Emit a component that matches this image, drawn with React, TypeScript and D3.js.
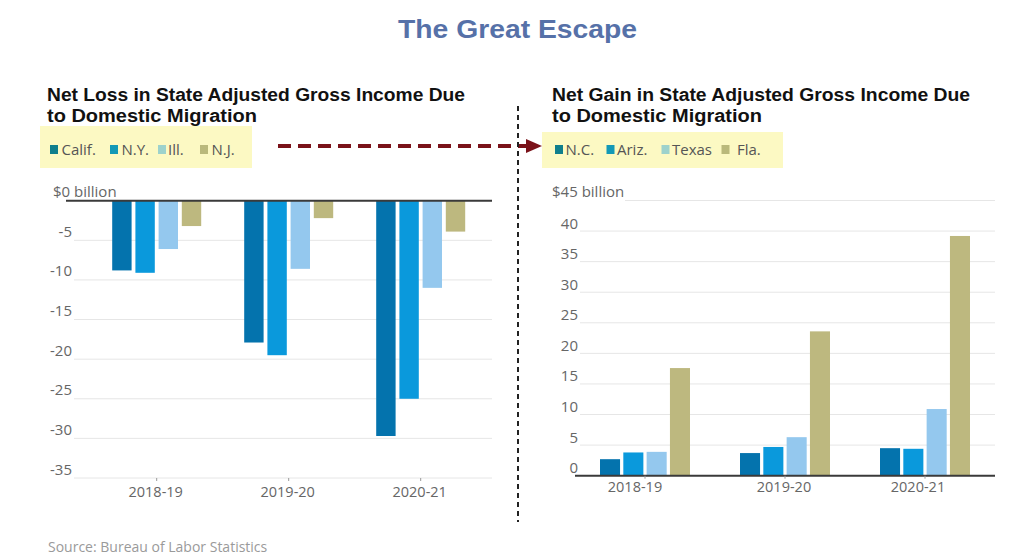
import React from "react";
import * as d3 from "d3";

const years = ["2018-19", "2019-20", "2020-21"];

const lossStates = ["Calif.", "N.Y.", "Ill.", "N.J."];
const califLoss = [-8.8, -17.9, -29.7];
const nyLoss = [-9.1, -19.5, -25.0];
const illLoss = [-6.1, -8.6, -11.0];
const njLoss = [-3.2, -2.2, -3.9];

const gainStates = ["N.C.", "Ariz.", "Texas", "Fla."];
const ncGain = [2.7, 3.7, 4.5];
const arizGain = [3.8, 4.7, 4.4];
const texasGain = [3.9, 6.3, 10.9];
const flaGain = [17.6, 23.6, 39.2];

const leftTicks = [0, -5, -10, -15, -20, -25, -30, -35];
const rightTicks = [0, 5, 10, 15, 20, 25, 30, 35, 40, 45];

const barColors = ["#0473ad", "#0a99dc", "#94c8ee", "#bdb87f"];
const legendColors = ["#0f7f8c", "#1399b6", "#9dd2cc", "#bab97b"];

const FONT = "'Open Sans', 'DejaVu Sans', sans-serif";
const HEAD_FONT = "'Liberation Sans', Arial, sans-serif";

export default function App() {
  const lossSeries = [califLoss, nyLoss, illLoss, njLoss];
  const gainSeries = [ncGain, arizGain, texasGain, flaGain];

  // Left chart scales
  const yL = d3.scaleLinear().domain([-35, 0]).range([478, 200.7]);
  const xL = d3.scaleBand<string>().domain(years).range([90.7, 486.7]).padding(0);
  const xLi = d3.scaleBand<string>().domain(lossStates).range([-44.5, 44.5]).paddingInner(0.164).paddingOuter(0);

  // Right chart scales
  const yR = d3.scaleLinear().domain([0, 45]).range([475.7, 200.5]);
  const xR = d3.scaleBand<string>().domain(years).range([575, 995]).padding(0);
  const xRi = d3.scaleBand<string>().domain(gainStates).range([-45, 45]).paddingInner(0.14).paddingOuter(0);

  const leftLegendX = [50, 110, 158, 200];
  const leftLegendTextX = [61.5, 121.5, 168, 211.5];
  const rightLegendX = [555, 606.5, 661.5, 721.5];
  const rightLegendTextX = [565.5, 617, 672, 737];

  return (
    <svg width={1024} height={557} style={{ position: "absolute", left: 0, top: 0, background: "#fff" }} fontFamily={FONT}>
      <rect x={0} y={0} width={1024} height={557} fill="#ffffff" />
      {/* Title */}
      <text x={398} y={38} textLength={239} lengthAdjust="spacingAndGlyphs" fontFamily={HEAD_FONT} fontWeight="bold" fontSize={26} fill="#5671a8">
        The Great Escape
      </text>

      {/* Subtitles */}
      <g fontWeight="bold" fontSize={17.5} fill="#111" fontFamily={HEAD_FONT}>
        <text x={47} y={101} textLength={418} lengthAdjust="spacingAndGlyphs">Net Loss in State Adjusted Gross Income Due</text>
        <text x={47} y={121.5} textLength={210} lengthAdjust="spacingAndGlyphs">to Domestic Migration</text>
        <text x={552} y={101} textLength={418} lengthAdjust="spacingAndGlyphs">Net Gain in State Adjusted Gross Income Due</text>
        <text x={552} y={121.5} textLength={210} lengthAdjust="spacingAndGlyphs">to Domestic Migration</text>
      </g>

      {/* Legend boxes */}
      <rect x={40} y={126} width={212} height={42} fill="#fcf9c3" />
      <rect x={542} y={132} width={241} height={36} fill="#fcf9c3" />
      <g fontSize={15} fill="#555">
        {lossStates.map((s, i) => (
          <g key={s}>
            <rect x={leftLegendX[i]} y={145} width={8} height={9} fill={legendColors[i]} />
            <text x={leftLegendTextX[i]} y={155}>{s}</text>
          </g>
        ))}
        {gainStates.map((s, i) => (
          <g key={s}>
            <rect x={rightLegendX[i]} y={145} width={8} height={9} fill={legendColors[i]} />
            <text x={rightLegendTextX[i]} y={155}>{s}</text>
          </g>
        ))}
      </g>

      {/* Arrow */}
      <line x1={278} y1={146} x2={528} y2={146} stroke="#7a1219" strokeWidth={4} strokeDasharray="13 7" />
      <path d="M526,139 L542,146 L526,153 Z" fill="#7a1219" />

      {/* Dotted divider */}
      <line x1={518} y1={106} x2={518} y2={522} stroke="#222" strokeWidth={2} strokeDasharray="5 4" />

      {/* Left chart */}
      <g>
        {leftTicks.filter((t) => t !== 0).map((t) => (
          <line key={t} x1={74} x2={492} y1={yL(t)} y2={yL(t)} stroke="#e6e6e6" strokeWidth={1} />
        ))}
        {years.map((yr, gi) =>
          lossSeries.map((series, si) => {
            const v = series[gi];
            const x = (xL(yr) as number) + xL.bandwidth() / 2 + (xLi(lossStates[si]) as number);
            return (
              <rect key={yr + si} x={x} y={yL(0)} width={xLi.bandwidth()} height={yL(v) - yL(0)} fill={barColors[si]} />
            );
          })
        )}
        <line x1={66} x2={492} y1={yL(0)} y2={yL(0)} stroke="#3a3a3a" strokeWidth={2} />
        <g fontSize={15} fill="#666">
          {leftTicks.map((t) =>
            t === 0 ? (
              <text key={t} x={53} y={196.5}>$0 billion</text>
            ) : (
              <text key={t} x={72} y={yL(t) - 3.5} textAnchor="end">{t}</text>
            )
          )}
          {years.map((yr) => {
            const cx = (xL(yr) as number) + xL.bandwidth() / 2;
            return (
              <g key={yr}>
                <line x1={cx} x2={cx} y1={yL(-35)} y2={yL(-35) + 3} stroke="#999" />
                <text x={cx - 1} y={497} textAnchor="middle" fontSize={14.5}>{yr}</text>
              </g>
            );
          })}
        </g>
      </g>

      {/* Right chart */}
      <g>
        {rightTicks.filter((t) => t !== 0).map((t) => (
          <line key={t} x1={t === 45 ? 625 : 580} x2={995} y1={yR(t)} y2={yR(t)} stroke="#e6e6e6" strokeWidth={1} />
        ))}
        {years.map((yr, gi) =>
          gainSeries.map((series, si) => {
            const v = series[gi];
            const x = (xR(yr) as number) + xR.bandwidth() / 2 + (xRi(gainStates[si]) as number);
            return (
              <rect key={yr + si} x={x} y={yR(v)} width={xRi.bandwidth()} height={yR(0) - yR(v)} fill={barColors[si]} />
            );
          })
        )}
        <line x1={575} x2={995} y1={yR(0)} y2={yR(0)} stroke="#3a3a3a" strokeWidth={2} />
        <g fontSize={15} fill="#666">
          {rightTicks.map((t) =>
            t === 45 ? (
              <text key={t} x={552} y={196.5}>$45 billion</text>
            ) : (
              <text key={t} x={578} y={yR(t) - 2.5} textAnchor="end">{t}</text>
            )
          )}
          {years.map((yr, i) => {
            const cx = (xR(yr) as number) + xR.bandwidth() / 2;
            const offsets = [-10, -1, -7];
            return (
              <g key={yr}>
                <line x1={cx} x2={cx} y1={yR(0)} y2={yR(0) + 3} stroke="#999" />
                <text x={cx + offsets[i]} y={492} textAnchor="middle" fontSize={14.5}>{yr}</text>
              </g>
            );
          })}
        </g>
      </g>

      {/* Source */}
      <text x={48} y={552} fontSize={14} fill="#9a9a9a">Source: Bureau of Labor Statistics</text>
    </svg>
  );
}
